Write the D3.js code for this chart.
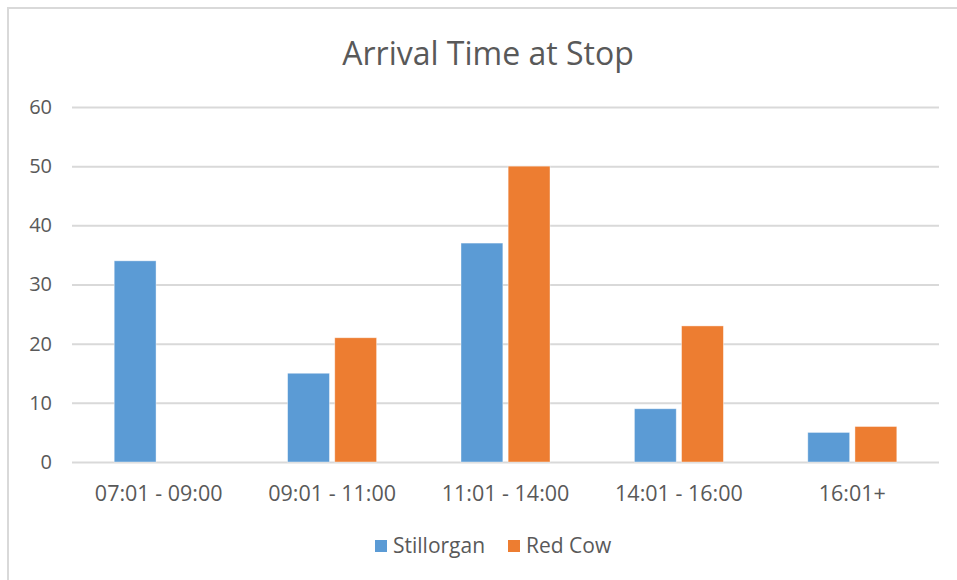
<!DOCTYPE html>
<html>
<head>
<meta charset="utf-8">
<script src="https://cdn.jsdelivr.net/npm/d3@7"></script>
<style>
  html, body { margin: 0; padding: 0; background: #fff; }
  svg { display: block; }
  text { font-family: "Open Sans", "Noto Sans", sans-serif; fill: #595959; }
</style>
</head>
<body>
<svg id="chart" width="957" height="580"></svg>
<script>
// Arrival counts per time window at each stop
const categories = ["07:01 - 09:00", "09:01 - 11:00", "11:01 - 14:00", "14:01 - 16:00", "16:01+"];
const seriesNames = ["Stillorgan", "Red Cow"];
const stillorgan = [34, 15, 37, 9, 5];
const redCow = [0, 21, 50, 23, 6];
const yTicks = [0, 10, 20, 30, 40, 50, 60];
const colors = ["#5B9BD5", "#ED7D31"];

const seriesValues = [stillorgan, redCow];
const rows = categories.map((c, i) => ({
  cat: c,
  vals: seriesNames.map((s, j) => ({ key: s, value: seriesValues[j][i] }))
}));

const svg = d3.select("#chart");
const W = 957, H = 580;

// outer chart frame
svg.append("rect")
  .attr("x", 8).attr("y", 8)
  .attr("width", W + 10).attr("height", H + 10)
  .attr("fill", "#fff")
  .attr("stroke", "#d9d9d9").attr("stroke-width", 2);

const plot = { left: 72, right: 939, top: 107, bottom: 462 };

const x = d3.scaleBand()
  .domain(categories)
  .range([plot.left, plot.right])
  .paddingInner(0).paddingOuter(0);

const barW = 39.5, barGap = 10;
const x1 = d3.scaleBand()
  .domain(seriesNames)
  .range([x.bandwidth() / 2 - barW - barGap / 2, x.bandwidth() / 2 + barW + barGap / 2])
  .paddingInner(barGap / (2 * barW + barGap));

const y = d3.scaleLinear().domain([0, 60]).range([plot.bottom, plot.top]);

// title
svg.append("text")
  .attr("x", 488).attr("y", 65)
  .attr("text-anchor", "middle")
  .attr("font-size", 32)
  .text("Arrival Time at Stop");

// gridlines + y labels
const yAxis = d3.axisLeft(y).tickValues(yTicks).tickSize(-(plot.right - plot.left)).tickPadding(20);
const gy = svg.append("g")
  .attr("transform", `translate(${plot.left},0)`)
  .call(yAxis);
gy.select(".domain").remove();
gy.selectAll(".tick line").attr("stroke", "#d9d9d9").attr("stroke-width", 2);
gy.selectAll(".tick text")
  .attr("fill", "#595959")
  .attr("font-size", 20)
  .attr("font-family", "'Open Sans', 'Noto Sans', sans-serif");

// bars
const groups = svg.append("g").selectAll("g")
  .data(rows).join("g")
  .attr("transform", d => `translate(${x(d.cat)},0)`);

groups.selectAll("rect")
  .data(d => d.vals.filter(v => v.value > 0))
  .join("rect")
  .attr("x", d => x1(d.key))
  .attr("width", x1.bandwidth())
  .attr("y", d => y(d.value))
  .attr("height", d => y(0) - y(d.value))
  .attr("fill", d => colors[seriesNames.indexOf(d.key)])
  .attr("stroke", "#fff").attr("stroke-width", 0.8).attr("stroke-opacity", 0.5);

// x axis labels
const xAxis = d3.axisBottom(x).tickSize(0).tickPadding(24);
const gx = svg.append("g")
  .attr("transform", `translate(0,${plot.bottom})`)
  .call(xAxis);
gx.select(".domain").remove();
gx.selectAll(".tick text")
  .attr("fill", "#595959")
  .attr("font-size", 21.5)
  .attr("font-family", "'Open Sans', 'Noto Sans', sans-serif");

// legend
const legendItems = [
  { name: seriesNames[0], color: colors[0], x: 375 },
  { name: seriesNames[1], color: colors[1], x: 508 }
];
const lg = svg.append("g");
legendItems.forEach(it => {
  lg.append("rect")
    .attr("x", it.x).attr("y", 540)
    .attr("width", 12).attr("height", 12)
    .attr("fill", it.color);
  lg.append("text")
    .attr("x", it.x + 18).attr("y", 553)
    .attr("font-size", 21)
    .text(it.name);
});
</script>
</body>
</html>
